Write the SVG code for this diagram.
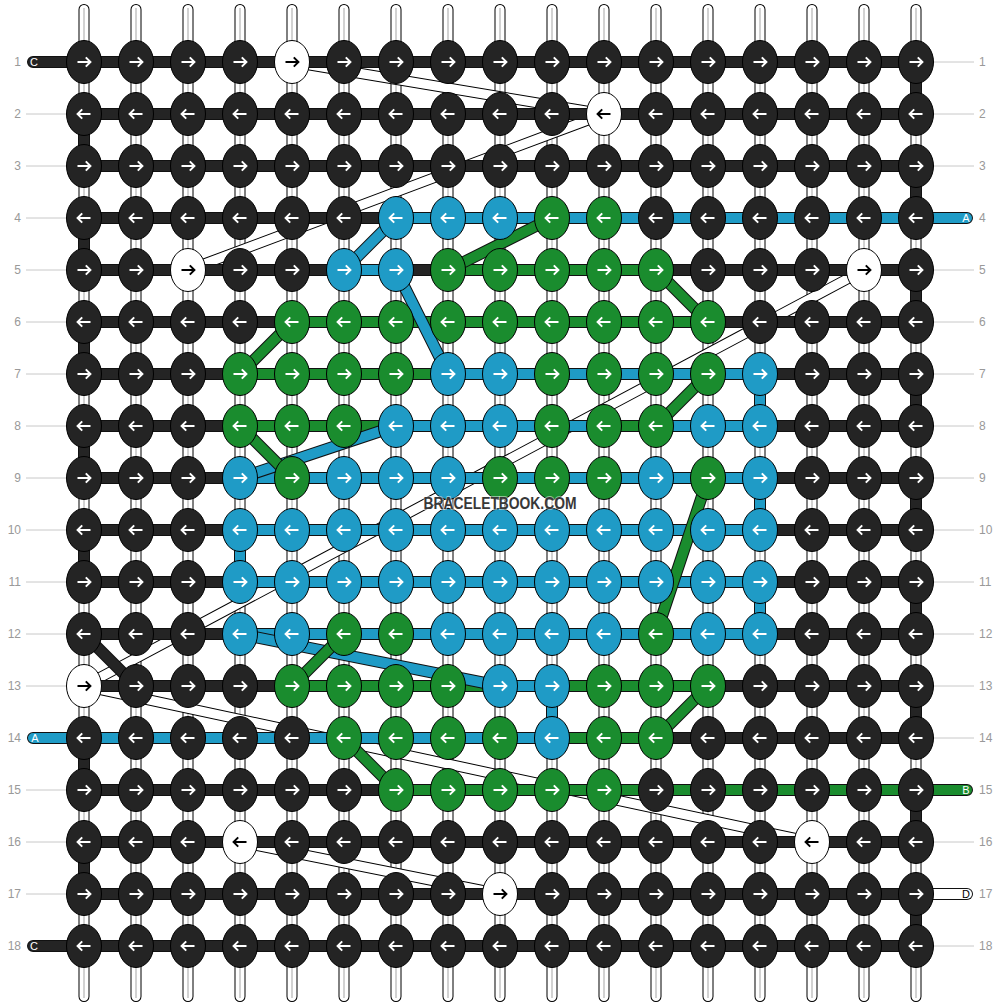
<svg xmlns="http://www.w3.org/2000/svg" width="1000" height="1008" viewBox="0 0 1000 1008">
<style>
.vt{fill:none;stroke:#000;stroke-width:11;stroke-linecap:round}
.vw{fill:none;stroke:#fff;stroke-width:9;stroke-linecap:round}
.vc{fill:none;stroke:#c4c4c4;stroke-width:1.5}
.dt{fill:none;stroke:#000;stroke-width:11}
.dw{fill:none;stroke:#fff;stroke-width:9}
.o{fill:none;stroke:#111;stroke-width:12;stroke-linecap:round}
.k{fill:none;stroke:#242424;stroke-width:10;stroke-linecap:round}
.b{fill:none;stroke:#1f9bc6;stroke-width:10;stroke-linecap:round}
.g{fill:none;stroke:#1a8c2e;stroke-width:10;stroke-linecap:round}
.w{fill:none;stroke:#fff;stroke-width:10;stroke-linecap:round}
.lb{font-family:"Liberation Sans",Arial,sans-serif;font-size:12px;fill:#999}
.ll{fill:none;stroke:#c8c8c8;stroke-width:1}
.cap{font-family:"Liberation Sans",Arial,sans-serif;font-size:11px;fill:#fff;text-anchor:middle}
</style>
<defs>
<g id="KR"><ellipse rx="17.5" ry="21.5" fill="#242424" stroke="#000"/><path d="M-6.5 0H6M1.8-4.6L6.4 0L1.8 4.6" fill="none" stroke="#fff" stroke-width="2"/></g>
<g id="KL"><ellipse rx="17.5" ry="21.5" fill="#242424" stroke="#000"/><path d="M6.5 0H-6M-1.8-4.6L-6.4 0L-1.8 4.6" fill="none" stroke="#fff" stroke-width="2"/></g>
<g id="BR"><ellipse rx="17.5" ry="21.5" fill="#1f9bc6" stroke="#000"/><path d="M-6.5 0H6M1.8-4.6L6.4 0L1.8 4.6" fill="none" stroke="#fff" stroke-width="2"/></g>
<g id="BL"><ellipse rx="17.5" ry="21.5" fill="#1f9bc6" stroke="#000"/><path d="M6.5 0H-6M-1.8-4.6L-6.4 0L-1.8 4.6" fill="none" stroke="#fff" stroke-width="2"/></g>
<g id="GR"><ellipse rx="17.5" ry="21.5" fill="#1a8c2e" stroke="#000"/><path d="M-6.5 0H6M1.8-4.6L6.4 0L1.8 4.6" fill="none" stroke="#fff" stroke-width="2"/></g>
<g id="GL"><ellipse rx="17.5" ry="21.5" fill="#1a8c2e" stroke="#000"/><path d="M6.5 0H-6M-1.8-4.6L-6.4 0L-1.8 4.6" fill="none" stroke="#fff" stroke-width="2"/></g>
<g id="WR"><ellipse rx="17.5" ry="21.5" fill="#fff" stroke="#000"/><path d="M-6.5 0H6M1.8-4.6L6.4 0L1.8 4.6" fill="none" stroke="#000" stroke-width="2"/></g>
<g id="WL"><ellipse rx="17.5" ry="21.5" fill="#fff" stroke="#000"/><path d="M6.5 0H-6M-1.8-4.6L-6.4 0L-1.8 4.6" fill="none" stroke="#000" stroke-width="2"/></g>
</defs>
<rect width="1000" height="1008" fill="#fff"/>
<g id="labels">
<path class="ll" d="M26 114H66M26 166H66M26 218H66M26 270H66M26 322H66M26 374H66M26 426H66M26 478H66M26 530H66M26 582H66M26 634H66M26 686H66M26 790H66M26 842H66M26 894H66"/>
<path class="ll" d="M934 62H974M934 114H974M934 166H974M934 270H974M934 322H974M934 374H974M934 426H974M934 478H974M934 530H974M934 582H974M934 634H974M934 686H974M934 738H974M934 842H974M934 946H974"/>
<g class="lb" text-anchor="end">
<text x="21" y="66">1</text><text x="21" y="118">2</text><text x="21" y="170">3</text><text x="21" y="222">4</text><text x="21" y="274">5</text><text x="21" y="326">6</text><text x="21" y="378">7</text><text x="21" y="430">8</text><text x="21" y="482">9</text><text x="21" y="534">10</text><text x="21" y="586">11</text><text x="21" y="638">12</text><text x="21" y="690">13</text><text x="21" y="742">14</text><text x="21" y="794">15</text><text x="21" y="846">16</text><text x="21" y="898">17</text><text x="21" y="950">18</text>
</g>
<g class="lb">
<text x="979" y="66">1</text><text x="979" y="118">2</text><text x="979" y="170">3</text><text x="979" y="222">4</text><text x="979" y="274">5</text><text x="979" y="326">6</text><text x="979" y="378">7</text><text x="979" y="430">8</text><text x="979" y="482">9</text><text x="979" y="534">10</text><text x="979" y="586">11</text><text x="979" y="638">12</text><text x="979" y="690">13</text><text x="979" y="742">14</text><text x="979" y="794">15</text><text x="979" y="846">16</text><text x="979" y="898">17</text><text x="979" y="950">18</text>
</g>
</g>
<g id="connectors">
<g id="strands">
<path class="vt" d="M84 9.5V996.5M136 9.5V996.5M188 9.5V996.5M240 9.5V996.5M292 9.5V996.5M344 9.5V996.5M396 9.5V996.5M448 9.5V996.5M500 9.5V996.5M552 9.5V996.5M604 9.5V996.5M656 9.5V996.5M708 9.5V996.5M760 9.5V996.5M812 9.5V996.5M864 9.5V996.5M916 9.5V996.5"/>
<path class="vw" d="M84 9.5V996.5M136 9.5V996.5M188 9.5V996.5M240 9.5V996.5M292 9.5V996.5M344 9.5V996.5M396 9.5V996.5M448 9.5V996.5M500 9.5V996.5M552 9.5V996.5M604 9.5V996.5M656 9.5V996.5M708 9.5V996.5M760 9.5V996.5M812 9.5V996.5M864 9.5V996.5M916 9.5V996.5"/>
<path class="vc" d="M84 8V998M136 8V998M188 8V998M240 8V998M292 8V998M344 8V998M396 8V998M448 8V998M500 8V998M552 8V998M604 8V998M656 8V998M708 8V998M760 8V998M812 8V998M864 8V998M916 8V998"/>
<path class="dt" d="M292 62L604 114M604 114L188 270M864 270L84 686M84 686L812 842M240 842L500 894"/>
<path class="dw" d="M292 62L604 114M604 114L188 270M864 270L84 686M84 686L812 842M240 842L500 894"/>
</g>
<g id="black-thread">
<path class="o" d="M84 62H916M84 114H916M84 166H916M84 218H916M84 270H916M84 322H916M84 374H916M84 426H916M84 478H916M84 530H916M84 582H916M84 634H916M84 686H916M84 738H916M84 790H916M84 842H916M84 894H916M84 946H916M84 114V166M84 218V270M84 322V374M84 426V478M84 530V582M84 738V790M84 842V894M916 62V114M916 166V218M916 270V322M916 374V426M916 478V530M916 582V634M916 686V738M916 790V842M916 894V946M84 634L136 686M33 62H84M33 946H84"/>
<path class="k" d="M84 62H916M84 114H916M84 166H916M84 218H916M84 270H916M84 322H916M84 374H916M84 426H916M84 478H916M84 530H916M84 582H916M84 634H916M84 686H916M84 738H916M84 790H916M84 842H916M84 894H916M84 946H916M84 114V166M84 218V270M84 322V374M84 426V478M84 530V582M84 738V790M84 842V894M916 62V114M916 166V218M916 270V322M916 374V426M916 478V530M916 582V634M916 686V738M916 790V842M916 894V946M84 634L136 686M33 62H84M33 946H84"/>
</g>
<g id="white-thread">
<path class="o" d="M916 894H967"/><path class="w" d="M916 894H967"/>
</g>
<g id="blue-rows">
<path class="o" d="M396 218H967M344 270H396M448 374H760M396 426H760M240 478H760M240 530H760M240 582H760M240 634H760M33 738H552"/>
<path class="b" d="M396 218H967M344 270H396M448 374H760M396 426H760M240 478H760M240 530H760M240 582H760M240 634H760M33 738H552"/>
</g>
<g id="green-rows">
<path class="o" d="M448 270H656M292 322H708M240 374H448M240 426H396M604 426H656M292 686H708M552 738H656M396 790H967"/>
<path class="g" d="M448 270H656M292 322H708M240 374H448M240 426H396M604 426H656M292 686H708M552 738H656M396 790H967"/>
</g>
<g id="blue-links">
<path class="o" d="M500 686H552M760 374V426M760 478V530M760 582V634M240 530V582M552 686V738M396 218L344 270M396 270L448 374M396 426L240 478M240 634L500 686"/>
<path class="b" d="M500 686H552M760 374V426M760 478V530M760 582V634M240 530V582M552 686V738M396 218L344 270M396 270L448 374M396 426L240 478M240 634L500 686"/>
</g>
<g id="green-links">
<path class="o" d="M552 218L448 270M656 270L708 322M292 322L240 374M708 374L656 426M240 426L292 478M708 478L656 634M344 634L292 686M708 686L656 738M344 738L396 790"/>
<path class="g" d="M552 218L448 270M656 270L708 322M292 322L240 374M708 374L656 426M240 426L292 478M708 478L656 634M344 634L292 686M708 686L656 738M344 738L396 790"/>
</g>
<g id="ends">
<text class="cap" x="34" y="66">C</text>
<text class="cap" x="34" y="950">C</text>
<text class="cap" x="35" y="742">A</text>
<text class="cap" x="966" y="222">A</text>
<text class="cap" x="966" y="794">B</text>
<text class="cap" x="966" y="898" fill="#000" style="fill:#000">D</text>
</g>
</g>
<g id="knots">
<g id="n1-1"><use href="#KR" x="84" y="62"/></g><g id="n1-2"><use href="#KR" x="136" y="62"/></g><g id="n1-3"><use href="#KR" x="188" y="62"/></g><g id="n1-4"><use href="#KR" x="240" y="62"/></g><g id="n1-5"><use href="#WR" x="292" y="62"/></g><g id="n1-6"><use href="#KR" x="344" y="62"/></g><g id="n1-7"><use href="#KR" x="396" y="62"/></g><g id="n1-8"><use href="#KR" x="448" y="62"/></g><g id="n1-9"><use href="#KR" x="500" y="62"/></g><g id="n1-10"><use href="#KR" x="552" y="62"/></g><g id="n1-11"><use href="#KR" x="604" y="62"/></g><g id="n1-12"><use href="#KR" x="656" y="62"/></g><g id="n1-13"><use href="#KR" x="708" y="62"/></g><g id="n1-14"><use href="#KR" x="760" y="62"/></g><g id="n1-15"><use href="#KR" x="812" y="62"/></g><g id="n1-16"><use href="#KR" x="864" y="62"/></g><g id="n1-17"><use href="#KR" x="916" y="62"/></g>
<g id="n2-1"><use href="#KL" x="84" y="114"/></g><g id="n2-2"><use href="#KL" x="136" y="114"/></g><g id="n2-3"><use href="#KL" x="188" y="114"/></g><g id="n2-4"><use href="#KL" x="240" y="114"/></g><g id="n2-5"><use href="#KL" x="292" y="114"/></g><g id="n2-6"><use href="#KL" x="344" y="114"/></g><g id="n2-7"><use href="#KL" x="396" y="114"/></g><g id="n2-8"><use href="#KL" x="448" y="114"/></g><g id="n2-9"><use href="#KL" x="500" y="114"/></g><g id="n2-10"><use href="#KL" x="552" y="114"/></g><g id="n2-11"><use href="#WL" x="604" y="114"/></g><g id="n2-12"><use href="#KL" x="656" y="114"/></g><g id="n2-13"><use href="#KL" x="708" y="114"/></g><g id="n2-14"><use href="#KL" x="760" y="114"/></g><g id="n2-15"><use href="#KL" x="812" y="114"/></g><g id="n2-16"><use href="#KL" x="864" y="114"/></g><g id="n2-17"><use href="#KL" x="916" y="114"/></g>
<g id="n3-1"><use href="#KR" x="84" y="166"/></g><g id="n3-2"><use href="#KR" x="136" y="166"/></g><g id="n3-3"><use href="#KR" x="188" y="166"/></g><g id="n3-4"><use href="#KR" x="240" y="166"/></g><g id="n3-5"><use href="#KR" x="292" y="166"/></g><g id="n3-6"><use href="#KR" x="344" y="166"/></g><g id="n3-7"><use href="#KR" x="396" y="166"/></g><g id="n3-8"><use href="#KR" x="448" y="166"/></g><g id="n3-9"><use href="#KR" x="500" y="166"/></g><g id="n3-10"><use href="#KR" x="552" y="166"/></g><g id="n3-11"><use href="#KR" x="604" y="166"/></g><g id="n3-12"><use href="#KR" x="656" y="166"/></g><g id="n3-13"><use href="#KR" x="708" y="166"/></g><g id="n3-14"><use href="#KR" x="760" y="166"/></g><g id="n3-15"><use href="#KR" x="812" y="166"/></g><g id="n3-16"><use href="#KR" x="864" y="166"/></g><g id="n3-17"><use href="#KR" x="916" y="166"/></g>
<g id="n4-1"><use href="#KL" x="84" y="218"/></g><g id="n4-2"><use href="#KL" x="136" y="218"/></g><g id="n4-3"><use href="#KL" x="188" y="218"/></g><g id="n4-4"><use href="#KL" x="240" y="218"/></g><g id="n4-5"><use href="#KL" x="292" y="218"/></g><g id="n4-6"><use href="#KL" x="344" y="218"/></g><g id="n4-7"><use href="#BL" x="396" y="218"/></g><g id="n4-8"><use href="#BL" x="448" y="218"/></g><g id="n4-9"><use href="#BL" x="500" y="218"/></g><g id="n4-10"><use href="#GL" x="552" y="218"/></g><g id="n4-11"><use href="#GL" x="604" y="218"/></g><g id="n4-12"><use href="#KL" x="656" y="218"/></g><g id="n4-13"><use href="#KL" x="708" y="218"/></g><g id="n4-14"><use href="#KL" x="760" y="218"/></g><g id="n4-15"><use href="#KL" x="812" y="218"/></g><g id="n4-16"><use href="#KL" x="864" y="218"/></g><g id="n4-17"><use href="#KL" x="916" y="218"/></g>
<g id="n5-1"><use href="#KR" x="84" y="270"/></g><g id="n5-2"><use href="#KR" x="136" y="270"/></g><g id="n5-3"><use href="#WR" x="188" y="270"/></g><g id="n5-4"><use href="#KR" x="240" y="270"/></g><g id="n5-5"><use href="#KR" x="292" y="270"/></g><g id="n5-6"><use href="#BR" x="344" y="270"/></g><g id="n5-7"><use href="#BR" x="396" y="270"/></g><g id="n5-8"><use href="#GR" x="448" y="270"/></g><g id="n5-9"><use href="#GR" x="500" y="270"/></g><g id="n5-10"><use href="#GR" x="552" y="270"/></g><g id="n5-11"><use href="#GR" x="604" y="270"/></g><g id="n5-12"><use href="#GR" x="656" y="270"/></g><g id="n5-13"><use href="#KR" x="708" y="270"/></g><g id="n5-14"><use href="#KR" x="760" y="270"/></g><g id="n5-15"><use href="#KR" x="812" y="270"/></g><g id="n5-16"><use href="#WR" x="864" y="270"/></g><g id="n5-17"><use href="#KR" x="916" y="270"/></g>
<g id="n6-1"><use href="#KL" x="84" y="322"/></g><g id="n6-2"><use href="#KL" x="136" y="322"/></g><g id="n6-3"><use href="#KL" x="188" y="322"/></g><g id="n6-4"><use href="#KL" x="240" y="322"/></g><g id="n6-5"><use href="#GL" x="292" y="322"/></g><g id="n6-6"><use href="#GL" x="344" y="322"/></g><g id="n6-7"><use href="#GL" x="396" y="322"/></g><g id="n6-8"><use href="#GL" x="448" y="322"/></g><g id="n6-9"><use href="#GL" x="500" y="322"/></g><g id="n6-10"><use href="#GL" x="552" y="322"/></g><g id="n6-11"><use href="#GL" x="604" y="322"/></g><g id="n6-12"><use href="#GL" x="656" y="322"/></g><g id="n6-13"><use href="#GL" x="708" y="322"/></g><g id="n6-14"><use href="#KL" x="760" y="322"/></g><g id="n6-15"><use href="#KL" x="812" y="322"/></g><g id="n6-16"><use href="#KL" x="864" y="322"/></g><g id="n6-17"><use href="#KL" x="916" y="322"/></g>
<g id="n7-1"><use href="#KR" x="84" y="374"/></g><g id="n7-2"><use href="#KR" x="136" y="374"/></g><g id="n7-3"><use href="#KR" x="188" y="374"/></g><g id="n7-4"><use href="#GR" x="240" y="374"/></g><g id="n7-5"><use href="#GR" x="292" y="374"/></g><g id="n7-6"><use href="#GR" x="344" y="374"/></g><g id="n7-7"><use href="#GR" x="396" y="374"/></g><g id="n7-8"><use href="#BR" x="448" y="374"/></g><g id="n7-9"><use href="#BR" x="500" y="374"/></g><g id="n7-10"><use href="#GR" x="552" y="374"/></g><g id="n7-11"><use href="#GR" x="604" y="374"/></g><g id="n7-12"><use href="#GR" x="656" y="374"/></g><g id="n7-13"><use href="#GR" x="708" y="374"/></g><g id="n7-14"><use href="#BR" x="760" y="374"/></g><g id="n7-15"><use href="#KR" x="812" y="374"/></g><g id="n7-16"><use href="#KR" x="864" y="374"/></g><g id="n7-17"><use href="#KR" x="916" y="374"/></g>
<g id="n8-1"><use href="#KL" x="84" y="426"/></g><g id="n8-2"><use href="#KL" x="136" y="426"/></g><g id="n8-3"><use href="#KL" x="188" y="426"/></g><g id="n8-4"><use href="#GL" x="240" y="426"/></g><g id="n8-5"><use href="#GL" x="292" y="426"/></g><g id="n8-6"><use href="#GL" x="344" y="426"/></g><g id="n8-7"><use href="#BL" x="396" y="426"/></g><g id="n8-8"><use href="#BL" x="448" y="426"/></g><g id="n8-9"><use href="#BL" x="500" y="426"/></g><g id="n8-10"><use href="#GL" x="552" y="426"/></g><g id="n8-11"><use href="#GL" x="604" y="426"/></g><g id="n8-12"><use href="#GL" x="656" y="426"/></g><g id="n8-13"><use href="#BL" x="708" y="426"/></g><g id="n8-14"><use href="#BL" x="760" y="426"/></g><g id="n8-15"><use href="#KL" x="812" y="426"/></g><g id="n8-16"><use href="#KL" x="864" y="426"/></g><g id="n8-17"><use href="#KL" x="916" y="426"/></g>
<g id="n9-1"><use href="#KR" x="84" y="478"/></g><g id="n9-2"><use href="#KR" x="136" y="478"/></g><g id="n9-3"><use href="#KR" x="188" y="478"/></g><g id="n9-4"><use href="#BR" x="240" y="478"/></g><g id="n9-5"><use href="#GR" x="292" y="478"/></g><g id="n9-6"><use href="#BR" x="344" y="478"/></g><g id="n9-7"><use href="#BR" x="396" y="478"/></g><g id="n9-8"><use href="#BR" x="448" y="478"/></g><g id="n9-9"><use href="#GR" x="500" y="478"/></g><g id="n9-10"><use href="#GR" x="552" y="478"/></g><g id="n9-11"><use href="#GR" x="604" y="478"/></g><g id="n9-12"><use href="#BR" x="656" y="478"/></g><g id="n9-13"><use href="#GR" x="708" y="478"/></g><g id="n9-14"><use href="#BR" x="760" y="478"/></g><g id="n9-15"><use href="#KR" x="812" y="478"/></g><g id="n9-16"><use href="#KR" x="864" y="478"/></g><g id="n9-17"><use href="#KR" x="916" y="478"/></g>
<g id="n10-1"><use href="#KL" x="84" y="530"/></g><g id="n10-2"><use href="#KL" x="136" y="530"/></g><g id="n10-3"><use href="#KL" x="188" y="530"/></g><g id="n10-4"><use href="#BL" x="240" y="530"/></g><g id="n10-5"><use href="#BL" x="292" y="530"/></g><g id="n10-6"><use href="#BL" x="344" y="530"/></g><g id="n10-7"><use href="#BL" x="396" y="530"/></g><g id="n10-8"><use href="#BL" x="448" y="530"/></g><g id="n10-9"><use href="#BL" x="500" y="530"/></g><g id="n10-10"><use href="#BL" x="552" y="530"/></g><g id="n10-11"><use href="#BL" x="604" y="530"/></g><g id="n10-12"><use href="#BL" x="656" y="530"/></g><g id="n10-13"><use href="#BL" x="708" y="530"/></g><g id="n10-14"><use href="#BL" x="760" y="530"/></g><g id="n10-15"><use href="#KL" x="812" y="530"/></g><g id="n10-16"><use href="#KL" x="864" y="530"/></g><g id="n10-17"><use href="#KL" x="916" y="530"/></g>
<g id="n11-1"><use href="#KR" x="84" y="582"/></g><g id="n11-2"><use href="#KR" x="136" y="582"/></g><g id="n11-3"><use href="#KR" x="188" y="582"/></g><g id="n11-4"><use href="#BR" x="240" y="582"/></g><g id="n11-5"><use href="#BR" x="292" y="582"/></g><g id="n11-6"><use href="#BR" x="344" y="582"/></g><g id="n11-7"><use href="#BR" x="396" y="582"/></g><g id="n11-8"><use href="#BR" x="448" y="582"/></g><g id="n11-9"><use href="#BR" x="500" y="582"/></g><g id="n11-10"><use href="#BR" x="552" y="582"/></g><g id="n11-11"><use href="#BR" x="604" y="582"/></g><g id="n11-12"><use href="#BR" x="656" y="582"/></g><g id="n11-13"><use href="#BR" x="708" y="582"/></g><g id="n11-14"><use href="#BR" x="760" y="582"/></g><g id="n11-15"><use href="#KR" x="812" y="582"/></g><g id="n11-16"><use href="#KR" x="864" y="582"/></g><g id="n11-17"><use href="#KR" x="916" y="582"/></g>
<g id="n12-1"><use href="#KL" x="84" y="634"/></g><g id="n12-2"><use href="#KL" x="136" y="634"/></g><g id="n12-3"><use href="#KL" x="188" y="634"/></g><g id="n12-4"><use href="#BL" x="240" y="634"/></g><g id="n12-5"><use href="#BL" x="292" y="634"/></g><g id="n12-6"><use href="#GL" x="344" y="634"/></g><g id="n12-7"><use href="#GL" x="396" y="634"/></g><g id="n12-8"><use href="#BL" x="448" y="634"/></g><g id="n12-9"><use href="#BL" x="500" y="634"/></g><g id="n12-10"><use href="#BL" x="552" y="634"/></g><g id="n12-11"><use href="#BL" x="604" y="634"/></g><g id="n12-12"><use href="#GL" x="656" y="634"/></g><g id="n12-13"><use href="#BL" x="708" y="634"/></g><g id="n12-14"><use href="#BL" x="760" y="634"/></g><g id="n12-15"><use href="#KL" x="812" y="634"/></g><g id="n12-16"><use href="#KL" x="864" y="634"/></g><g id="n12-17"><use href="#KL" x="916" y="634"/></g>
<g id="n13-1"><use href="#WR" x="84" y="686"/></g><g id="n13-2"><use href="#KR" x="136" y="686"/></g><g id="n13-3"><use href="#KR" x="188" y="686"/></g><g id="n13-4"><use href="#KR" x="240" y="686"/></g><g id="n13-5"><use href="#GR" x="292" y="686"/></g><g id="n13-6"><use href="#GR" x="344" y="686"/></g><g id="n13-7"><use href="#GR" x="396" y="686"/></g><g id="n13-8"><use href="#GR" x="448" y="686"/></g><g id="n13-9"><use href="#BR" x="500" y="686"/></g><g id="n13-10"><use href="#BR" x="552" y="686"/></g><g id="n13-11"><use href="#GR" x="604" y="686"/></g><g id="n13-12"><use href="#GR" x="656" y="686"/></g><g id="n13-13"><use href="#GR" x="708" y="686"/></g><g id="n13-14"><use href="#KR" x="760" y="686"/></g><g id="n13-15"><use href="#KR" x="812" y="686"/></g><g id="n13-16"><use href="#KR" x="864" y="686"/></g><g id="n13-17"><use href="#KR" x="916" y="686"/></g>
<g id="n14-1"><use href="#KL" x="84" y="738"/></g><g id="n14-2"><use href="#KL" x="136" y="738"/></g><g id="n14-3"><use href="#KL" x="188" y="738"/></g><g id="n14-4"><use href="#KL" x="240" y="738"/></g><g id="n14-5"><use href="#KL" x="292" y="738"/></g><g id="n14-6"><use href="#GL" x="344" y="738"/></g><g id="n14-7"><use href="#GL" x="396" y="738"/></g><g id="n14-8"><use href="#GL" x="448" y="738"/></g><g id="n14-9"><use href="#GL" x="500" y="738"/></g><g id="n14-10"><use href="#BL" x="552" y="738"/></g><g id="n14-11"><use href="#GL" x="604" y="738"/></g><g id="n14-12"><use href="#GL" x="656" y="738"/></g><g id="n14-13"><use href="#KL" x="708" y="738"/></g><g id="n14-14"><use href="#KL" x="760" y="738"/></g><g id="n14-15"><use href="#KL" x="812" y="738"/></g><g id="n14-16"><use href="#KL" x="864" y="738"/></g><g id="n14-17"><use href="#KL" x="916" y="738"/></g>
<g id="n15-1"><use href="#KR" x="84" y="790"/></g><g id="n15-2"><use href="#KR" x="136" y="790"/></g><g id="n15-3"><use href="#KR" x="188" y="790"/></g><g id="n15-4"><use href="#KR" x="240" y="790"/></g><g id="n15-5"><use href="#KR" x="292" y="790"/></g><g id="n15-6"><use href="#KR" x="344" y="790"/></g><g id="n15-7"><use href="#GR" x="396" y="790"/></g><g id="n15-8"><use href="#GR" x="448" y="790"/></g><g id="n15-9"><use href="#GR" x="500" y="790"/></g><g id="n15-10"><use href="#GR" x="552" y="790"/></g><g id="n15-11"><use href="#GR" x="604" y="790"/></g><g id="n15-12"><use href="#KR" x="656" y="790"/></g><g id="n15-13"><use href="#KR" x="708" y="790"/></g><g id="n15-14"><use href="#KR" x="760" y="790"/></g><g id="n15-15"><use href="#KR" x="812" y="790"/></g><g id="n15-16"><use href="#KR" x="864" y="790"/></g><g id="n15-17"><use href="#KR" x="916" y="790"/></g>
<g id="n16-1"><use href="#KL" x="84" y="842"/></g><g id="n16-2"><use href="#KL" x="136" y="842"/></g><g id="n16-3"><use href="#KL" x="188" y="842"/></g><g id="n16-4"><use href="#WL" x="240" y="842"/></g><g id="n16-5"><use href="#KL" x="292" y="842"/></g><g id="n16-6"><use href="#KL" x="344" y="842"/></g><g id="n16-7"><use href="#KL" x="396" y="842"/></g><g id="n16-8"><use href="#KL" x="448" y="842"/></g><g id="n16-9"><use href="#KL" x="500" y="842"/></g><g id="n16-10"><use href="#KL" x="552" y="842"/></g><g id="n16-11"><use href="#KL" x="604" y="842"/></g><g id="n16-12"><use href="#KL" x="656" y="842"/></g><g id="n16-13"><use href="#KL" x="708" y="842"/></g><g id="n16-14"><use href="#KL" x="760" y="842"/></g><g id="n16-15"><use href="#WL" x="812" y="842"/></g><g id="n16-16"><use href="#KL" x="864" y="842"/></g><g id="n16-17"><use href="#KL" x="916" y="842"/></g>
<g id="n17-1"><use href="#KR" x="84" y="894"/></g><g id="n17-2"><use href="#KR" x="136" y="894"/></g><g id="n17-3"><use href="#KR" x="188" y="894"/></g><g id="n17-4"><use href="#KR" x="240" y="894"/></g><g id="n17-5"><use href="#KR" x="292" y="894"/></g><g id="n17-6"><use href="#KR" x="344" y="894"/></g><g id="n17-7"><use href="#KR" x="396" y="894"/></g><g id="n17-8"><use href="#KR" x="448" y="894"/></g><g id="n17-9"><use href="#WR" x="500" y="894"/></g><g id="n17-10"><use href="#KR" x="552" y="894"/></g><g id="n17-11"><use href="#KR" x="604" y="894"/></g><g id="n17-12"><use href="#KR" x="656" y="894"/></g><g id="n17-13"><use href="#KR" x="708" y="894"/></g><g id="n17-14"><use href="#KR" x="760" y="894"/></g><g id="n17-15"><use href="#KR" x="812" y="894"/></g><g id="n17-16"><use href="#KR" x="864" y="894"/></g><g id="n17-17"><use href="#KR" x="916" y="894"/></g>
<g id="n18-1"><use href="#KL" x="84" y="946"/></g><g id="n18-2"><use href="#KL" x="136" y="946"/></g><g id="n18-3"><use href="#KL" x="188" y="946"/></g><g id="n18-4"><use href="#KL" x="240" y="946"/></g><g id="n18-5"><use href="#KL" x="292" y="946"/></g><g id="n18-6"><use href="#KL" x="344" y="946"/></g><g id="n18-7"><use href="#KL" x="396" y="946"/></g><g id="n18-8"><use href="#KL" x="448" y="946"/></g><g id="n18-9"><use href="#KL" x="500" y="946"/></g><g id="n18-10"><use href="#KL" x="552" y="946"/></g><g id="n18-11"><use href="#KL" x="604" y="946"/></g><g id="n18-12"><use href="#KL" x="656" y="946"/></g><g id="n18-13"><use href="#KL" x="708" y="946"/></g><g id="n18-14"><use href="#KL" x="760" y="946"/></g><g id="n18-15"><use href="#KL" x="812" y="946"/></g><g id="n18-16"><use href="#KL" x="864" y="946"/></g><g id="n18-17"><use href="#KL" x="916" y="946"/></g>
</g>
<text x="500" y="509" text-anchor="middle" font-family="'Liberation Sans',Arial,sans-serif" font-weight="bold" font-size="16" textLength="153" lengthAdjust="spacingAndGlyphs" fill="#383838" stroke="#fff" stroke-opacity="0.5" stroke-width="2" paint-order="stroke">BRACELETBOOK.COM</text>
</svg>
